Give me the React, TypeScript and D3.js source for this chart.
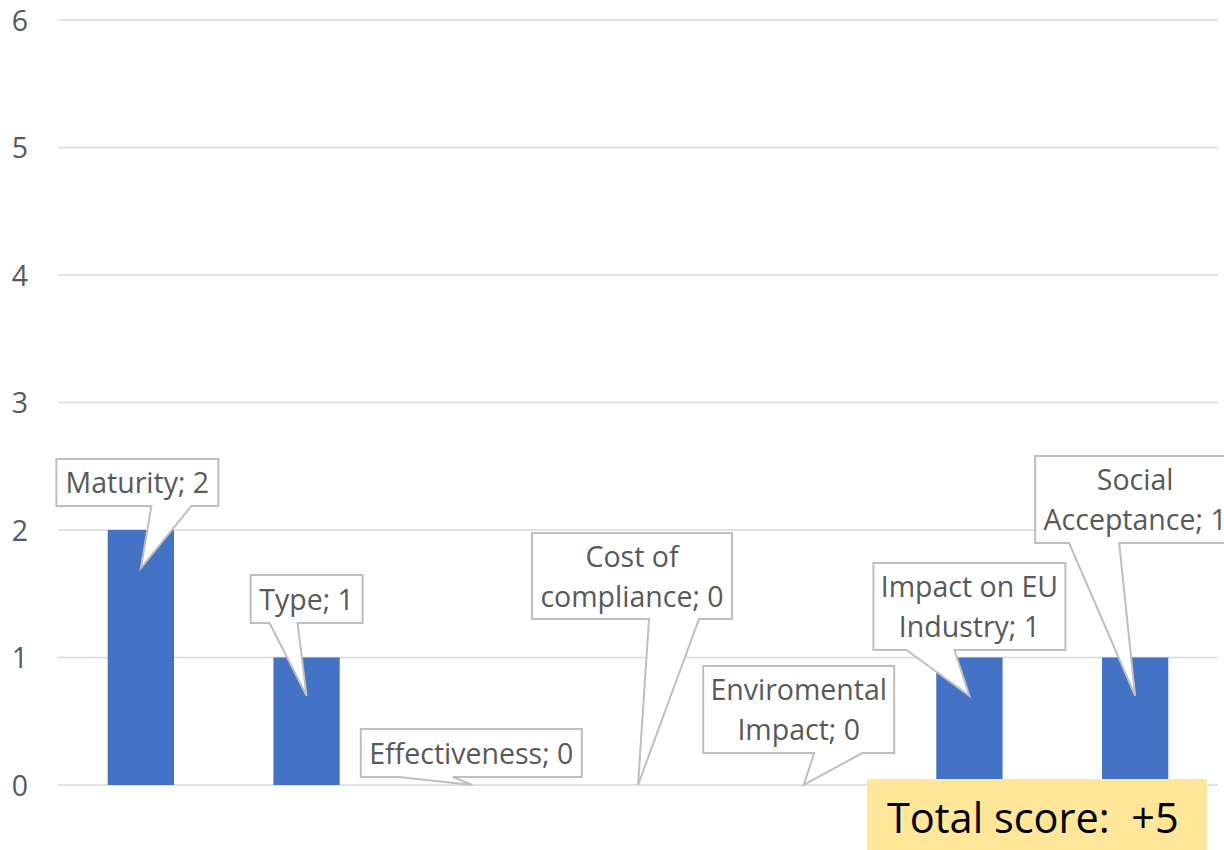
import React from "react";
import * as d3 from "d3";

const categories = [
  "Maturity",
  "Type",
  "Effectiveness",
  "Cost of compliance",
  "Enviromental Impact",
  "Impact on EU Industry",
  "Social Acceptance",
];
const values = [2, 1, 0, 0, 0, 1, 1];
const yTicks = [0, 1, 2, 3, 4, 5, 6];
// how each data label is split into lines
const labelLines = [
  ["Maturity; 2"],
  ["Type; 1"],
  ["Effectiveness; 0"],
  ["Cost of", "compliance; 0"],
  ["Enviromental", "Impact; 0"],
  ["Impact on EU", "Industry; 1"],
  ["Social", "Acceptance; 1"],
];

// callout layout (pixel offsets relative to bar centre)
const calloutLayout = [
  { dx: -3.5, top: 459, bottom: 506, w: 162, bl: 14, br: 54 },
  { dx: 0, top: 575, bottom: 623, w: 112, bl: -37, br: -9 },
  { dx: -1, top: 729, bottom: 777, w: 221, bl: -72.5, br: -18.5 },
  { dx: -6, top: 533, bottom: 619, w: 200, bl: 17, br: 67 },
  { dx: -5, top: 666, bottom: 753, w: 191, bl: 15.5, br: 63.5 },
  { dx: 0, top: 563, bottom: 650, w: 192, bl: -63, br: -15 },
  { dx: 0, top: 456, bottom: 543, w: 200, bl: -66, br: -16 },
];

const W = 1224;
const H = 850;
const FONT = "'Open Sans', 'Noto Sans', sans-serif";

export default function App() {
  const x = d3.scaleBand<string>().domain(categories).range([58, 1218]);
  const y = d3.scaleLinear().domain([0, 6]).range([785, 20]);
  const bw = x.bandwidth() * 0.4;
  const unit = y(0) - y(1);
  const total = d3.sum(values);

  return (
    <svg
      width={W}
      height={H}
      style={{ position: "absolute", left: 0, top: 0, background: "#fff" }}
      fontFamily={FONT}
    >
      <rect x={0} y={0} width={W} height={H} fill="#fff" />
      {yTicks.map((t) => (
        <g key={t}>
          <line
            x1={x.range()[0]}
            x2={x.range()[1]}
            y1={y(t)}
            y2={y(t)}
            stroke="#d9d9d9"
            strokeWidth={1.6}
          />
          <text
            x={20}
            y={y(t) + 10.5}
            fontSize={28.5}
            fill="#595959"
            textAnchor="middle"
          >
            {t}
          </text>
        </g>
      ))}
      {categories.map((c, i) => {
        const cx = (x(c) as number) + x.bandwidth() / 2;
        return (
          <rect
            key={c}
            x={cx - bw / 2}
            y={y(values[i])}
            width={bw}
            height={y(0) - y(values[i])}
            fill="#4472c4"
          />
        );
      })}
      {categories.map((c, i) => {
        const cx = (x(c) as number) + x.bandwidth() / 2;
        const L = calloutLayout[i];
        const bcx = cx + L.dx;
        const left = bcx - L.w / 2;
        const right = bcx + L.w / 2;
        const tipY = values[i] > 0 ? y(values[i]) + 0.3 * unit : y(0);
        const tipX = cx;
        const path = [
          `M${left},${L.top}`,
          `L${right},${L.top}`,
          `L${right},${L.bottom}`,
          `L${bcx + L.br},${L.bottom}`,
          `L${tipX},${tipY}`,
          `L${bcx + L.bl},${L.bottom}`,
          `L${left},${L.bottom}`,
          "Z",
        ].join(" ");
        const lines = labelLines[i];
        const mid = (L.top + L.bottom) / 2;
        return (
          <g key={c}>
            <path d={path} fill="#fff" stroke="#bfbfbf" strokeWidth={2} />
            {lines.map((ln, k) => (
              <text
                key={k}
                x={bcx}
                y={mid + (k - (lines.length - 1) / 2) * 40 + 10.5}
                fontSize={28.5}
                fill="#595959"
                textAnchor="middle"
              >
                {ln}
              </text>
            ))}
          </g>
        );
      })}
      <rect x={867} y={779} width={340} height={80} fill="#ffe699" />
      <text x={887} y={833} fontSize={41.5} fill="#000">
        {`Total score:\u00a0\u00a0+${total}`}
      </text>
    </svg>
  );
}
